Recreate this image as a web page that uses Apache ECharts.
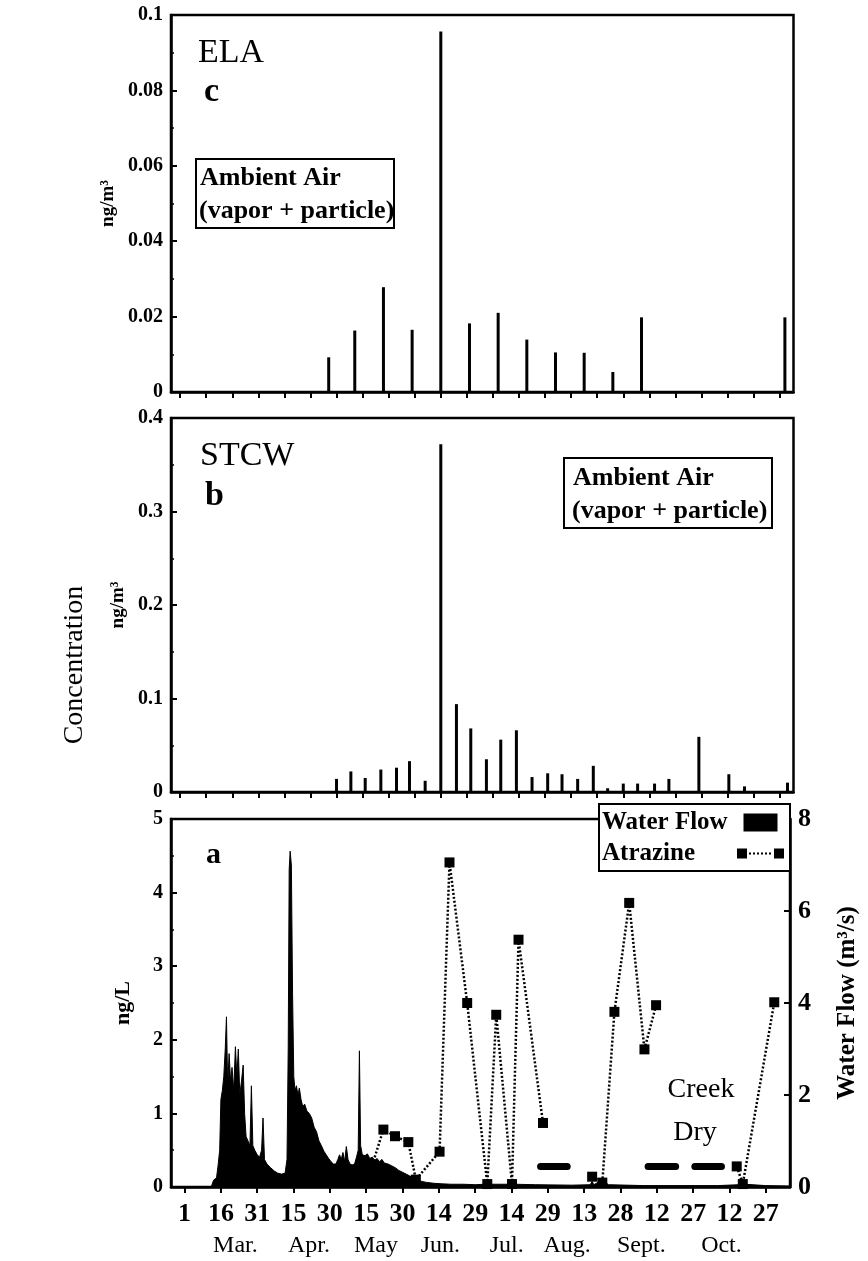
<!DOCTYPE html>
<html>
<head>
<meta charset="utf-8">
<script src="https://cdn.jsdelivr.net/npm/echarts@6/dist/echarts.min.js"></script>
<style>html,body{margin:0;padding:0;background:#fff}#c{width:868px;height:1261px}</style>
</head>
<body>
<div id="c"></div>
<script>
// ---- Panel c (ELA) ambient air, ng/m3 ----
const elaDays = [57, 67, 78, 89, 100, 111, 122, 133, 144, 155, 166, 177, 232];
const elaVals = [0.0092, 0.0163, 0.0278, 0.0165, 0.0956, 0.0182, 0.021, 0.0139, 0.0105, 0.0104, 0.0053, 0.0198, 0.0198];

// ---- Panel b (STCW) ambient air, ng/m3 ----
const stcwDays = [60, 65.5, 71, 77, 83, 88, 94, 100, 106, 111.5, 117.5, 123, 129, 135, 141, 146.5, 152.5, 158.5, 164, 170, 175.5, 182, 187.5, 199, 210.5, 216.5, 233];
const stcwVals = [0.014, 0.022, 0.015, 0.024, 0.026, 0.033, 0.012, 0.372, 0.094, 0.068, 0.035, 0.056, 0.066, 0.016, 0.02, 0.019, 0.014, 0.028, 0.004, 0.009, 0.009, 0.009, 0.014, 0.059, 0.019, 0.006, 0.01];
const upperTicks = [0,10,20,30,40,50,60,70,80,90,100,110,120,130,140,150,160,170,180,190,200,210,220,230];

// ---- Panel a: water flow (m3/s) and atrazine (ng/L) ----
const flowDays = [-5.6, 11, 12, 13.2, 13.8, 14.5, 15, 15.6, 16.2, 16.8, 17.3, 17.8, 18.4, 19, 19.6, 20.3, 21, 21.6, 22.2, 22.8, 23.5, 24.2, 24.8, 25.4, 26.2, 27, 27.6, 28.2, 29, 30, 31, 31.8, 32.4, 33, 34, 35.5, 37, 38.5, 40, 41.5, 42.3, 42.8, 43.2, 43.6, 44.1, 44.6, 45.1, 45.6, 46.2, 46.8, 47.4, 48.1, 48.8, 49.6, 50.5, 51.5, 52.5, 53.5, 54.5, 55.5, 56.5, 57.5, 58.5, 59.5, 60.5, 61.5, 62.5, 63.3, 64, 64.7, 65.4, 66.1, 66.8, 67.5, 68.3, 69.2, 70.2, 71, 71.7, 72.2, 72.7, 73.4, 74.5, 75.5, 76.5, 77.5, 78.5, 79.5, 80.5, 81.5, 82.5, 84, 85.5, 87, 88.5, 90, 91.5, 93, 94.5, 96, 98, 100, 103, 106, 110, 115, 120, 124, 125, 126, 134, 135.2, 136.2, 145, 160, 167.5, 168.3, 169, 171.5, 172.5, 173.5, 175, 190, 220, 229, 230.2, 231.5, 240, 250];
const flowVals = [0, 0, 0.15, 0.2, 0.45, 0.8, 1.9, 2.1, 2.4, 3.0, 3.7, 2.2, 2.9, 2.3, 2.6, 2.1, 3.05, 2.4, 3.0, 2.0, 2.3, 2.65, 1.6, 1.1, 1.0, 0.9, 2.2, 0.9, 0.8, 0.7, 0.65, 0.8, 1.5, 0.6, 0.5, 0.42, 0.35, 0.3, 0.28, 0.3, 0.6, 3.0, 6.9, 7.3, 7.0, 4.2, 2.4, 2.1, 2.2, 2.0, 2.15, 1.9, 1.75, 1.8, 1.65, 1.6, 1.5, 1.3, 1.2, 1.0, 0.9, 0.78, 0.7, 0.62, 0.55, 0.5, 0.5, 0.6, 0.7, 0.6, 0.75, 0.55, 0.88, 0.6, 0.5, 0.48, 0.5, 0.65, 0.8, 2.96, 0.9, 0.7, 0.68, 0.72, 0.62, 0.65, 0.58, 0.62, 0.55, 0.6, 0.52, 0.5, 0.46, 0.42, 0.36, 0.32, 0.28, 0.24, 0.2, 0.16, 0.12, 0.1, 0.08, 0.07, 0.06, 0.06, 0.05, 0.06, 0.12, 0.06, 0.06, 0.12, 0.06, 0.05, 0.04, 0.05, 0.12, 0.05, 0.12, 0.18, 0.12, 0.05, 0.03, 0.03, 0.05, 0.18, 0.06, 0.03, 0.02];

// null marks a break in the record (creek dry)
const atrDays = [77.5, 82.1, 86.9, 92.4, 95.5, 105.3, 109.4, 116.7, 125, 128.7, 135.2, 137.9, 148, null, 168.3, 172.5, 177.5, 183.6, 189.9, 194.7, null, 228, 230.5, 243.5];
const atrVals = [0.3, 0.78, 0.69, 0.61, 0.1, 0.48, 4.41, 2.5, 0.04, 2.34, 0.04, 3.36, 0.87, null, 0.14, 0.06, 2.38, 3.86, 1.87, 2.47, null, 0.28, 0.04, 2.51];

// "creek dry" periods
const dryStart = [147, 191.4, 210.7];
const dryEnd = [158, 202.8, 221.7];
const dryLevel = 0.28;

const tickDays = [0, 15, 30, 45, 60, 75, 90, 105, 120, 135, 150, 165, 180, 195, 210, 225, 240];
const tickLabels = ['1', '16', '31', '15', '30', '15', '30', '14', '29', '14', '29', '13', '28', '12', '27', '12', '27'];
const monthDays = [21, 51.4, 79, 105.6, 133, 158, 188.6, 221.7];
const monthNames = ['Mar.', 'Apr.', 'May', 'Jun.', 'Jul.', 'Aug.', 'Sept.', 'Oct.'];

const SERIF = '"Liberation Serif", "DejaVu Serif", serif';
const LW = 2.5;

const elaData = elaDays.map((d, i) => [d, elaVals[i]]);
const stcwData = stcwDays.map((d, i) => [d, stcwVals[i]]);
const flowData = flowDays.map((d, i) => [d, flowVals[i]]);
const atrData = atrDays.map((d, i) => d === null ? '-' : [d, atrVals[i]]);
const dryData = [];
dryStart.forEach((s, i) => { dryData.push([s, dryLevel], [dryEnd[i], dryLevel], '-'); });

const axisLine = { show: true, onZero: false, lineStyle: { color: '#000', width: LW } };
const leftLabel = { color: '#000', fontFamily: SERIF, fontWeight: 'bold', fontSize: 20, margin: 8 };

function upperX(gi) {
  return {
    type: 'value', gridIndex: gi, min: -3.5, max: 235.3,
    axisLine: axisLine,
    axisTick: { show: true, inside: false, length: 6, customValues: upperTicks, lineStyle: { width: 2, color: '#000' } },
    axisLabel: { show: false },
    splitLine: { show: false }
  };
}
function leftY(gi, max, interval, name, gap, nameSize) {
  return {
    type: 'value', gridIndex: gi, min: 0, max: max, interval: interval,
    name: name, nameLocation: 'middle', nameGap: gap, nameRotate: 90,
    nameTextStyle: { color: '#000', fontFamily: SERIF, fontWeight: 'bold', fontSize: nameSize },
    axisLine: axisLine,
    axisTick: { show: true, inside: true, length: 6, lineStyle: { width: 2, color: '#000' } },
    minorTick: { show: true, splitNumber: 2, length: 3, lineStyle: { width: 1.5, color: '#000' } },
    axisLabel: leftLabel,
    splitLine: { show: false }
  };
}
const gridBase = { show: true, borderColor: '#000', borderWidth: LW, backgroundColor: 'transparent', containLabel: false };
const legendFont = { fontFamily: SERIF, fontWeight: 'bold', fontSize: 25, color: '#000' };

const option = {
  animation: false,
  backgroundColor: '#fff',
  grid: [
    Object.assign({ left: 171, right: 74.5, top: 15, bottom: 869 }, gridBase),
    Object.assign({ left: 171, right: 74.5, top: 418, bottom: 469 }, gridBase),
    Object.assign({ left: 171, right: 61, top: 819, bottom: 74 }, gridBase)
  ],
  xAxis: [
    upperX(0),
    upperX(1),
    {
      type: 'value', gridIndex: 2, min: -5.6, max: 250,
      axisLine: axisLine,
      axisTick: { show: true, inside: false, length: 6, customValues: tickDays, lineStyle: { width: 2, color: '#000' } },
      axisLabel: {
        customValues: tickDays, color: '#000', fontFamily: SERIF, fontWeight: 'bold', fontSize: 26, margin: 14,
        formatter: v => tickLabels[tickDays.indexOf(v)]
      },
      splitLine: { show: false }
    },
    {
      type: 'value', gridIndex: 2, min: -5.6, max: 250, position: 'bottom',
      axisLine: { show: false }, axisTick: { show: false },
      axisLabel: {
        customValues: monthDays, color: '#000', fontFamily: SERIF, fontSize: 24, margin: 47,
        formatter: v => monthNames[monthDays.indexOf(v)]
      },
      splitLine: { show: false }
    }
  ],
  yAxis: [
    leftY(0, 0.1, 0.02, 'ng/m\u00B3', 41, 19),
    leftY(1, 0.4, 0.1, 'ng/m\u00B3', 41, 19),
    leftY(2, 5, 1, 'ng/L', 37, 22),
    {
      type: 'value', gridIndex: 2, min: 0, max: 8, interval: 2, position: 'right',
      name: 'Water Flow (m\u00B3/s)', nameLocation: 'middle', nameGap: 45, nameRotate: 90,
      nameTextStyle: { color: '#000', fontFamily: SERIF, fontWeight: 'bold', fontSize: 25 },
      axisLine: axisLine,
      axisTick: { show: true, inside: true, length: 6, lineStyle: { width: 2, color: '#000' } },
      axisLabel: { color: '#000', fontFamily: SERIF, fontWeight: 'bold', fontSize: 26, margin: 8 },
      splitLine: { show: false }
    }
  ],
  legend: {
    orient: 'vertical', right: 78, top: 804, align: 'right',
    backgroundColor: '#fff', borderColor: '#000', borderWidth: 2,
    padding: [6, 6, 5, 3], itemGap: 6, itemWidth: 47, itemHeight: 18, itemTextGap: 4,
    selectedMode: false,
    itemStyle: { borderWidth: 0 },
    formatter: name => '{t|' + name + '}',
    textStyle: Object.assign({ rich: { t: Object.assign({ width: 130, align: 'left' }, legendFont) } }, legendFont),
    data: [
      { name: 'Water Flow', icon: 'path://M0,0h34v18h-34z' },
      { name: 'Atrazine', icon: 'path://M0,0h10v10h-10z M37,0h10v10h-10z M12,4h2v2h-2z M16,4h2v2h-2z M20,4h2v2h-2z M24,4h2v2h-2z M28,4h2v2h-2z M32,4h2v2h-2z' }
    ]
  },
  series: [
    { name: 'ELA', type: 'bar', xAxisIndex: 0, yAxisIndex: 0, data: elaData, barWidth: 3, itemStyle: { color: '#000' } },
    { name: 'STCW', type: 'bar', xAxisIndex: 1, yAxisIndex: 1, data: stcwData, barWidth: 3, itemStyle: { color: '#000' } },
    {
      name: 'Water Flow', type: 'line', xAxisIndex: 2, yAxisIndex: 3, data: flowData,
      symbol: 'none', itemStyle: { color: '#000' },
      lineStyle: { color: '#000', width: 1 }, areaStyle: { color: '#000', opacity: 1 }, z: 2
    },
    {
      name: 'Atrazine', type: 'line', xAxisIndex: 2, yAxisIndex: 2, data: atrData, connectNulls: false,
      symbol: 'rect', symbolSize: 10, itemStyle: { color: '#000' },
      lineStyle: { color: '#000', width: 2.5, type: [2, 2] }, z: 3
    },
    {
      name: 'Creek dry', type: 'line', xAxisIndex: 2, yAxisIndex: 2, data: dryData, connectNulls: false,
      symbol: 'none', lineStyle: { color: '#000', width: 7, cap: 'round' }, silent: true, z: 3
    }
  ],
  graphic: [
    { type: 'text', left: 198, top: 36, style: { text: 'ELA', font: 'normal 34px ' + SERIF, fill: '#000' } },
    { type: 'text', left: 204, top: 75, style: { text: 'c', font: 'bold 34px ' + SERIF, fill: '#000' } },
    { type: 'text', left: 200, top: 439, style: { text: 'STCW', font: 'normal 34px ' + SERIF, fill: '#000' } },
    { type: 'text', left: 205, top: 479, style: { text: 'b', font: 'bold 34px ' + SERIF, fill: '#000' } },
    { type: 'text', left: 206, top: 840, style: { text: 'a', font: 'bold 30px ' + SERIF, fill: '#000' } },
    { type: 'rect', shape: { x: 196, y: 159, width: 198, height: 69 }, style: { fill: 'none', stroke: '#000', lineWidth: 2 } },
    { type: 'text', x: 200, y: 178.5, style: { text: 'Ambient Air', font: 'bold 26px ' + SERIF, fill: '#000', verticalAlign: 'middle' } },
    { type: 'text', x: 199, y: 211, style: { text: '(vapor + particle)', font: 'bold 26px ' + SERIF, fill: '#000', verticalAlign: 'middle' } },
    { type: 'rect', shape: { x: 564, y: 458, width: 208, height: 70 }, style: { fill: 'none', stroke: '#000', lineWidth: 2 } },
    { type: 'text', x: 573, y: 478.5, style: { text: 'Ambient Air', font: 'bold 26px ' + SERIF, fill: '#000', verticalAlign: 'middle' } },
    { type: 'text', x: 572, y: 511, style: { text: '(vapor + particle)', font: 'bold 26px ' + SERIF, fill: '#000', verticalAlign: 'middle' } },
    { type: 'text', x: 701, y: 1090, style: { text: 'Creek', font: 'normal 28px ' + SERIF, fill: '#000', align: 'center', verticalAlign: 'middle' } },
    { type: 'text', x: 695, y: 1133, style: { text: 'Dry', font: 'normal 28px ' + SERIF, fill: '#000', align: 'center', verticalAlign: 'middle' } },
    { type: 'text', x: 75, y: 665, rotation: Math.PI / 2, style: { text: 'Concentration', font: 'normal 28px ' + SERIF, fill: '#000', align: 'center', verticalAlign: 'middle' } }
  ]
};

const chart = echarts.init(document.getElementById('c'), null, { renderer: 'canvas' });
chart.setOption(option);
</script>
</body>
</html>
